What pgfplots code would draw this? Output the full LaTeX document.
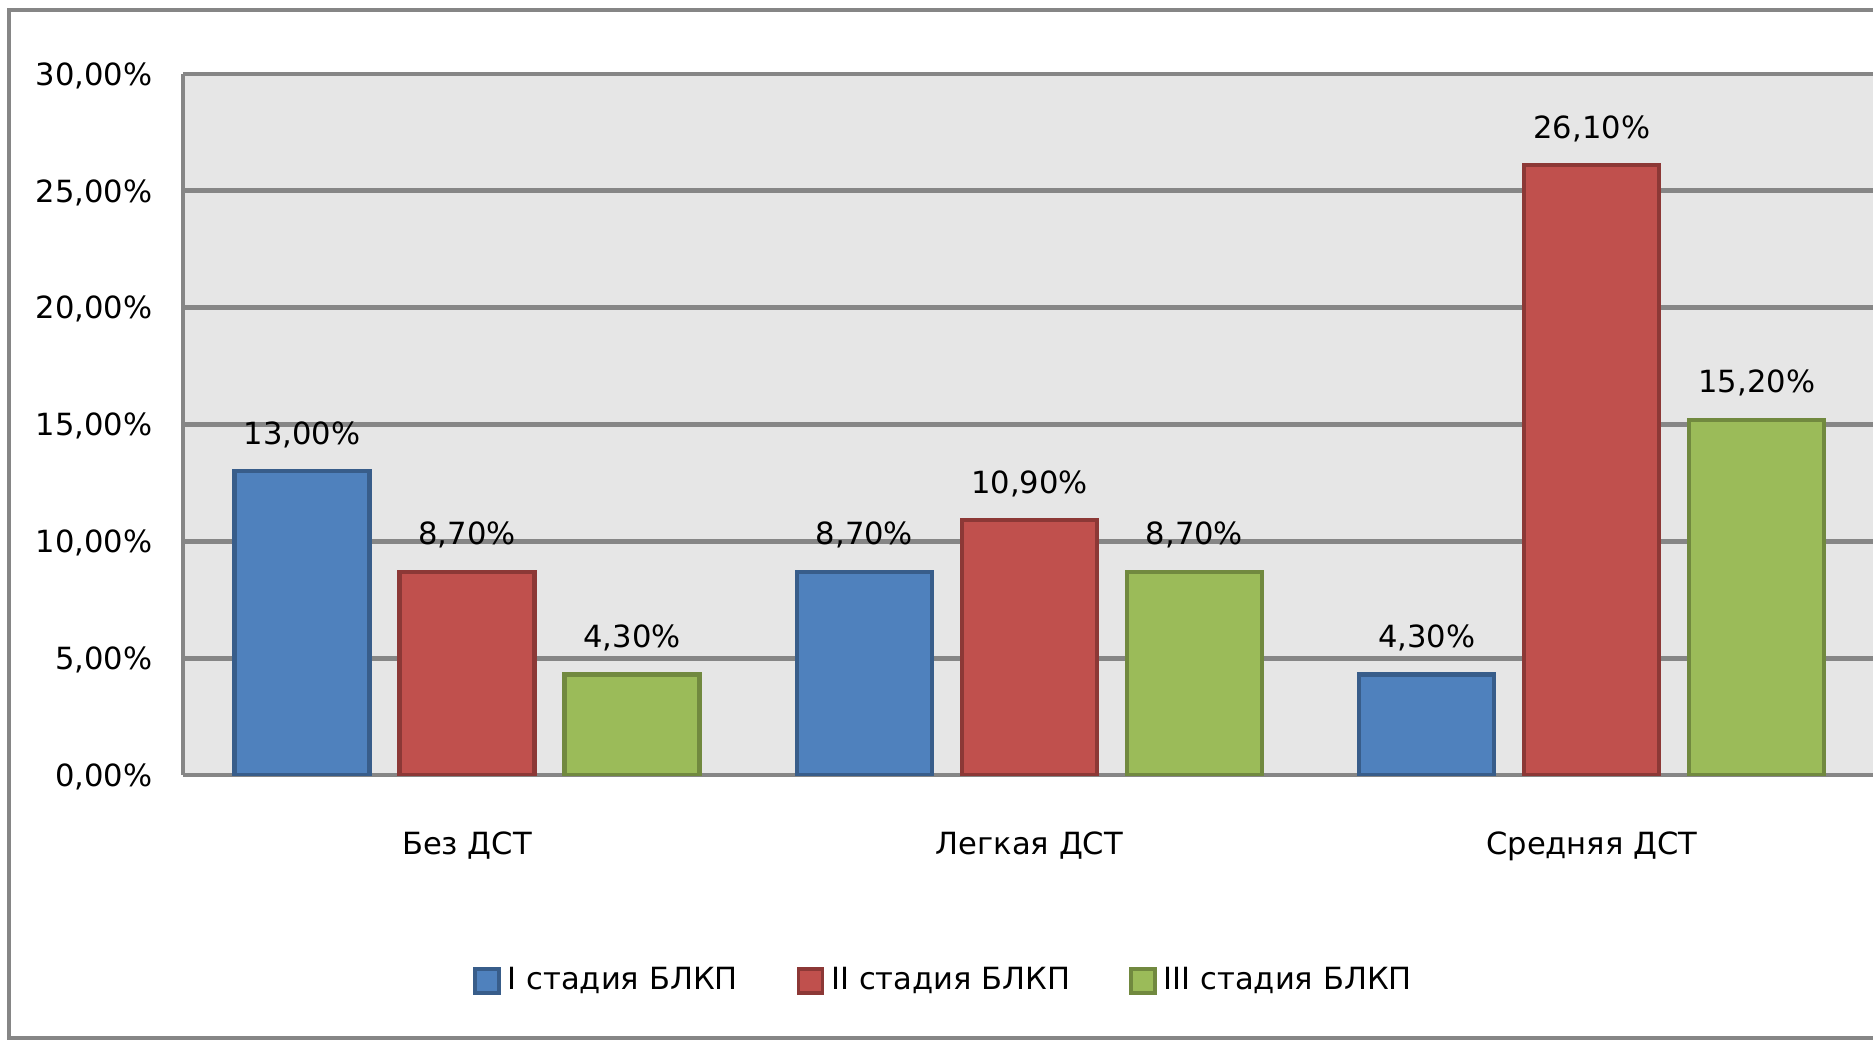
\documentclass[border=0pt]{standalone}
\usepackage{fontspec}
\setmainfont{DejaVu Sans}
\usepackage{pgfplots}
\pgfplotsset{compat=1.18}
\definecolor{bgray}{RGB}{230,230,230}
\definecolor{lgray}{RGB}{134,134,134}
\definecolor{b1}{RGB}{79,129,189}
\definecolor{b1d}{RGB}{56,93,138}
\definecolor{r1}{RGB}{192,80,77}
\definecolor{r1d}{RGB}{140,56,54}
\definecolor{g1}{RGB}{155,187,89}
\definecolor{g1d}{RGB}{113,137,63}
\pgfplotsset{sqlegend/.style={legend image code/.code={\draw[##1, line width=1.0pt] (0cm,-1.2mm) rectangle (2.4mm,1.2mm);}}}
\begin{document}
\begin{tikzpicture}[x=1cm,y=1cm]
\path[use as bounding box] (0,0) rectangle (18.73,10.41);
\draw[lgray, line width=1.3pt] (19.5,10.31) -- (0.09,10.31) -- (0.09,0.03) -- (19.5,0.03);
\begin{axis}[
  at={(1.83cm,2.66cm)}, anchor=south west,
  scale only axis, width=16.90cm, height=7.01cm,
  ybar=0.30cm, bar width=1.35cm,
  xmin=-0.505, xmax=2.5, ymin=0, ymax=30,
  enlargelimits=false,
  xtick={0,1,2}, xticklabels={Без ДСТ, Легкая ДСТ, Средняя ДСТ},
  ytick={0,5,...,30},
  /pgf/number format/assume math mode=true,
  yticklabel={\pgfmathprintnumber[fixed,fixed zerofill,precision=2,use comma]{\tick}\%},
  yticklabel style={anchor=base east, inner sep=0pt, xshift=-3.0mm, yshift=-3.2pt},
  xticklabel style={anchor=base, inner sep=0pt, yshift=-7.9mm},
  major tick length=0pt,
  tick style={draw=none},
  ticklabel style={font=\fontsize{8.7}{10}\selectfont, text=black},
  axis x line*=bottom, axis y line*=left,
  axis line style={-, draw=lgray, line width=1.4pt},
  ymajorgrids=true, xmajorgrids=false,
  major grid style={draw=lgray, line width=1.4pt},
  axis background/.style={fill=bgray},
  nodes near coords={\pgfmathprintnumber[fixed,fixed zerofill,precision=2,use comma]{\pgfplotspointmeta}\%},
  nodes near coords style={anchor=base, inner sep=0pt, yshift=2.7mm, font=\fontsize{8.7}{10}\selectfont, text=black},
  legend style={at={(0.4515,-0.2939)}, anchor=center, draw=none, fill=none, legend columns=3,
    font=\fontsize{8.7}{10}\selectfont, /tikz/every even column/.append style={column sep=5.2mm}},
]
\addplot[fill=b1, draw=b1d, line width=1.2pt, sqlegend] coordinates {(0,13.0) (1,8.7) (2,4.3)};
\addplot[fill=r1, draw=r1d, line width=1.2pt, sqlegend] coordinates {(0,8.7) (1,10.9) (2,26.1)};
\addplot[fill=g1, draw=g1d, line width=1.2pt, sqlegend] coordinates {(0,4.3) (1,8.7) (2,15.2)};
\legend{I стадия БЛКП, II стадия БЛКП, III стадия БЛКП}
\end{axis}
\end{tikzpicture}
\end{document}
